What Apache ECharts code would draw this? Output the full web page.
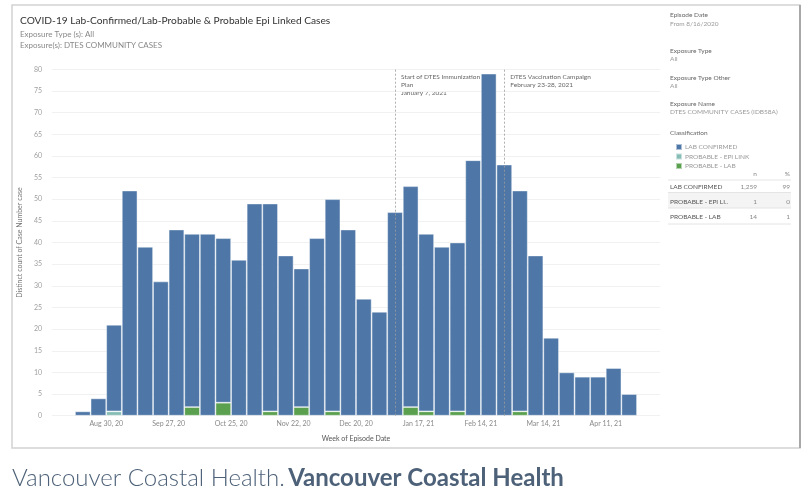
<!DOCTYPE html>
<html>
<head>
<meta charset="utf-8">
<script src="https://cdn.jsdelivr.net/npm/echarts@6/dist/echarts.min.js"></script>
<style>
  html, body { margin: 0; padding: 0; background: #fff; }
  #chart { width: 810px; height: 490px; }
</style>
</head>
<body>
<div id="chart"></div>
<script>
// weekly bins (week of episode date)
var weeks = ['Aug 16, 20', 'Aug 23, 20', 'Aug 30, 20', 'Sep 6, 20', 'Sep 13, 20', 'Sep 20, 20',
  'Sep 27, 20', 'Oct 4, 20', 'Oct 11, 20', 'Oct 18, 20', 'Oct 25, 20', 'Nov 1, 20',
  'Nov 8, 20', 'Nov 15, 20', 'Nov 22, 20', 'Nov 29, 20', 'Dec 6, 20', 'Dec 13, 20',
  'Dec 20, 20', 'Dec 27, 20', 'Jan 3, 21', 'Jan 10, 21', 'Jan 17, 21', 'Jan 24, 21',
  'Jan 31, 21', 'Feb 7, 21', 'Feb 14, 21', 'Feb 21, 21', 'Feb 28, 21', 'Mar 7, 21',
  'Mar 14, 21', 'Mar 21, 21', 'Mar 28, 21', 'Apr 4, 21', 'Apr 11, 21', 'Apr 18, 21'];

var labConfirmed = [1, 4, 20, 52, 39, 31, 43, 40, 42, 38, 36, 49,
  48, 37, 32, 41, 49, 43, 27, 24, 47, 51, 41, 39,
  39, 59, 79, 58, 51, 37, 18, 10, 9, 9, 11, 5];
var probableEpi = [0, 0, 1, 0, 0, 0, 0, 0, 0, 0, 0, 0,
  0, 0, 0, 0, 0, 0, 0, 0, 0, 0, 0, 0,
  0, 0, 0, 0, 0, 0, 0, 0, 0, 0, 0, 0];
var probableLab = [0, 0, 0, 0, 0, 0, 0, 2, 0, 3, 0, 0,
  1, 0, 2, 0, 1, 0, 0, 0, 0, 2, 1, 0,
  1, 0, 0, 0, 1, 0, 0, 0, 0, 0, 0, 0];

var yTicks = [0, 80, 5]; // min, max, step

// summary table on the right
var classNames = ['LAB CONFIRMED', 'PROBABLE - EPI LI..', 'PROBABLE - LAB'];
var classCounts = ['1,259', '1', '14'];
var classPct = ['99', '0', '1'];

// annotations (week bin the line sits in)
var notes = [
  { week: 'Jan 3, 21', text: 'Start of DTES Immunization\nPlan\nJanuary 7, 2021' },
  { week: 'Feb 21, 21', text: 'DTES Vaccination Campaign\nFebruary 23-28, 2021' }
];

var BLUE = '#4e77a7', TEAL = '#86bdb5', GREEN = '#5aa04f';
var FONT = 'Lato';

var chart = echarts.init(document.getElementById('chart'));

function blank(v) { return v === 0 ? '-' : v; }

var barStyle = function (c) {
  return { color: c, borderColor: 'rgba(255,255,255,0.55)', borderWidth: 0.8 };
};

// side panel text
var panel = [
  ['Episode Date', 15.3, '#666'],
  ['From 8/16/2020', 24.3, '#999'],
  ['Exposure Type', 50.7, '#666'],
  ['All', 59.3, '#999'],
  ['Exposure Type Other', 77.7, '#666'],
  ['All', 85.7, '#999'],
  ['Exposure Name', 104.3, '#666'],
  ['DTES COMMUNITY CASES (IDB58A)', 112.3, '#999'],
  ['Classification', 132.7, '#666']
];
var graphics = [];
// outer frame
graphics.push({ type: 'rect', shape: { x: 12, y: 5, width: 788, height: 443 },
  style: { fill: null, stroke: '#d2d2d2', lineWidth: 1.5 }, silent: true });
graphics.push({ type: 'line', shape: { x1: 800, y1: 5, x2: 800, y2: 448 },
  style: { stroke: '#a8a8a8', lineWidth: 2 }, silent: true });
panel.forEach(function (p) {
  graphics.push({ type: 'text', x: 670, y: p[1],
    style: { text: p[0], fill: p[2], font: '6.5px ' + FONT, verticalAlign: 'middle' } });
});
// table
graphics.push({ type: 'text', x: 757, y: 174, style: { text: 'n', fill: '#888', font: '6.5px ' + FONT, align: 'right', verticalAlign: 'middle' } });
graphics.push({ type: 'text', x: 790, y: 174, style: { text: '%', fill: '#888', font: '6.5px ' + FONT, align: 'right', verticalAlign: 'middle' } });
graphics.push({ type: 'rect', shape: { x: 668, y: 193, width: 123, height: 15 }, style: { fill: '#f4f4f4' } });
[180, 192.5, 208, 224].forEach(function (y) {
  graphics.push({ type: 'line', shape: { x1: 668, y1: y, x2: 791, y2: y }, style: { stroke: '#e4e4e4', lineWidth: 1 } });
});
var rowY = [186.5, 201.5, 217];
classNames.forEach(function (n, i) {
  graphics.push({ type: 'text', x: 670, y: rowY[i], style: { text: n, fill: '#555', font: '6.5px ' + FONT, verticalAlign: 'middle' } });
  graphics.push({ type: 'text', x: 757, y: rowY[i], style: { text: classCounts[i], fill: '#888', font: '6.5px ' + FONT, align: 'right', verticalAlign: 'middle' } });
  graphics.push({ type: 'text', x: 790, y: rowY[i], style: { text: classPct[i], fill: '#888', font: '6.5px ' + FONT, align: 'right', verticalAlign: 'middle' } });
});
// subtitle lines
graphics.push({ type: 'text', x: 20, y: 34, style: { text: 'Exposure Type (s): All', fill: '#888', font: '8px ' + FONT, verticalAlign: 'middle' } });
graphics.push({ type: 'text', x: 20, y: 45, style: { text: 'Exposure(s): DTES COMMUNITY CASES', fill: '#888', font: '8px ' + FONT, verticalAlign: 'middle' } });
// caption under the frame
graphics.push({ type: 'text', x: 12, y: 478, style: {
  text: '{a|Vancouver Coastal Health.} {b|Vancouver Coastal Health}',
  verticalAlign: 'middle',
  rich: {
    a: { fontFamily: FONT, fontSize: 24, fontWeight: 300, fill: '#4d6178' },
    b: { fontFamily: FONT, fontSize: 24, fontWeight: 'bold', fill: '#4d6178' }
  }
} });

var option = {
  animation: false,
  title: {
    text: 'COVID-19 Lab-Confirmed/Lab-Probable & Probable Epi Linked Cases',
    left: 15, top: 11,
    textStyle: { fontFamily: FONT, fontSize: 10.2, fontWeight: 'normal', color: '#333' }
  },
  legend: {
    orient: 'vertical', left: 670, top: 138,
    itemWidth: 6, itemHeight: 6, itemGap: 1.5,
    icon: 'rect',
    data: ['LAB CONFIRMED', 'PROBABLE - EPI LINK', 'PROBABLE - LAB'],
    textStyle: { fontFamily: FONT, fontSize: 6.5, color: '#999', padding: [0, 0, 0, -2] },
    selectedMode: false
  },
  grid: [
    { left: 52, right: 150, top: 69.3, bottom: 74.3 },
    { left: 75, right: 173, top: 69.3, bottom: 74.3 }
  ],
  xAxis: [
    { type: 'value', gridIndex: 0, show: false, min: 0, max: 1 },
    {
      type: 'category', gridIndex: 1, data: weeks,
      axisLine: { show: false }, axisTick: { show: false },
      axisLabel: {
        interval: function (i) { return (i - 2) % 4 === 0; },
        fontFamily: FONT, fontSize: 7, color: '#8a8a8a', margin: 5,
        padding: [0, 15.6, 0, 0]
      },
      name: 'Week of Episode Date', nameLocation: 'middle', nameGap: 20,
      nameTextStyle: { fontFamily: FONT, fontSize: 7, color: '#555' }
    }
  ],
  yAxis: [
    {
      type: 'value', gridIndex: 0, min: yTicks[0], max: yTicks[1], interval: yTicks[2],
      axisLine: { show: false }, axisTick: { show: false },
      axisLabel: { fontFamily: FONT, fontSize: 7, color: '#a0a0a0', margin: 10 },
      splitLine: { lineStyle: { color: '#f1f1f1', width: 1 } },
      name: 'Distinct count of Case Number case', nameLocation: 'middle', nameGap: 28,
      nameTextStyle: { fontFamily: FONT, fontSize: 7, color: '#777' }
    },
    { type: 'value', gridIndex: 1, min: yTicks[0], max: yTicks[1], show: false }
  ],
  series: [
    {
      name: 'PROBABLE - EPI LINK', type: 'bar', stack: 'c', xAxisIndex: 1, yAxisIndex: 1,
      barCategoryGap: '0%', data: probableEpi.map(blank), itemStyle: barStyle(TEAL)
    },
    {
      name: 'PROBABLE - LAB', type: 'bar', stack: 'c', xAxisIndex: 1, yAxisIndex: 1,
      barCategoryGap: '0%', data: probableLab.map(blank), itemStyle: barStyle(GREEN)
    },
    {
      name: 'LAB CONFIRMED', type: 'bar', stack: 'c', xAxisIndex: 1, yAxisIndex: 1,
      barCategoryGap: '0%', data: labConfirmed, itemStyle: barStyle(BLUE),
      markLine: {
        silent: true, symbol: 'none', animation: false,
        label: { show: false },
        lineStyle: { color: '#9a9a9a', type: [2, 2], width: 0.8 },
        data: notes.map(function (n) { return { xAxis: n.week }; })
      }
    }
  ],
  graphic: graphics
};
chart.setOption(option);

// annotation text next to each reference line
var noteGraphics = notes.map(function (n) {
  var px = chart.convertToPixel({ xAxisIndex: 1 }, n.week);
  return {
    type: 'text', x: px + 6, y: 72.5,
    style: { text: n.text, fill: '#666', font: '6.5px ' + FONT, lineHeight: 8 }
  };
});
chart.setOption({ graphic: graphics.concat(noteGraphics) });
</script>
</body>
</html>
